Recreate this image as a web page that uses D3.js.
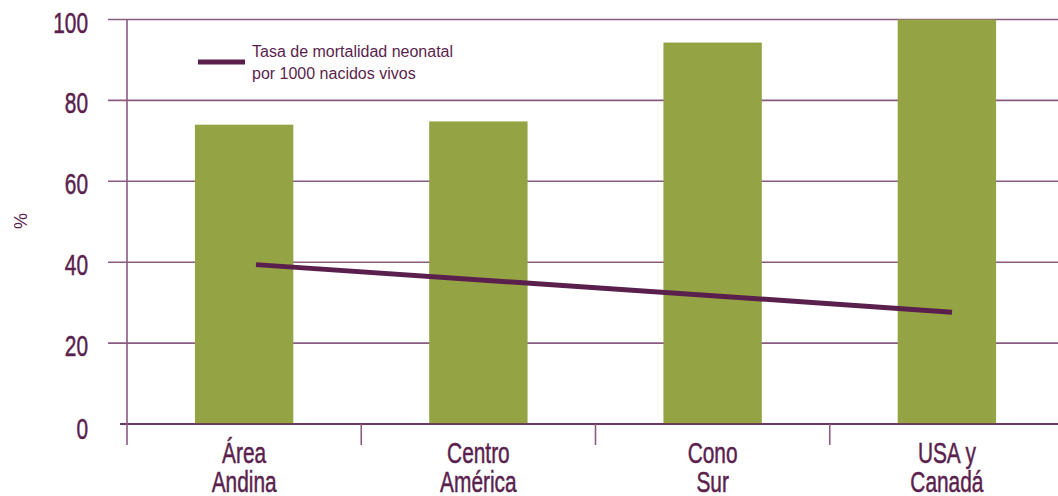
<!DOCTYPE html>
<html>
<head>
<meta charset="utf-8">
<script src="https://cdn.jsdelivr.net/npm/d3@7"></script>
<style>
  html, body { margin: 0; padding: 0; background: #fff; }
  svg { display: block; }
</style>
</head>
<body>
<svg id="chart" width="1058" height="496"></svg>
<script>
// Regions and their values
const categories = [["Área", "Andina"], ["Centro", "América"], ["Cono", "Sur"], ["USA y", "Canadá"]];
const barValues = [74.0, 74.8, 94.3, 100];          // %
const neonatalRate = [39.4, 35.5, 31.6, 27.6];       // per 1000 live births
const yTicks = [0, 20, 40, 60, 80, 100];
const legendLines = ["Tasa de mortalidad neonatal", "por 1000 nacidos vivos"];
const yTitle = "%";

const purple = "#5b1f4e";
const gridColor = "#8a5b80";
const green = "#94a444";
const condensed = "'Liberation Sans Narrow', 'Liberation Sans', Arial, sans-serif";
const squeeze = 0.72;   // horizontal compression for the condensed labels

const svg = d3.select("#chart");
const keys = categories.map(c => c.join(" "));

const x = d3.scaleBand().domain(keys).range([127, 1064]).padding(0);
const y = d3.scaleLinear().domain([0, 100]).range([424, 19.5]);
const xLine = d3.scalePoint().domain(keys).range([256, 952]);

const barW = x.bandwidth() * 0.42;

// horizontal grid lines with left ticks
const grid = svg.append("g");
grid.selectAll("line").data(yTicks).join("line")
  .attr("x1", d => d === 0 ? 120 : 108)
  .attr("x2", 1058)
  .attr("y1", d => y(d)).attr("y2", d => y(d))
  .attr("stroke", gridColor).attr("stroke-width", 1.6);

// y tick labels
svg.append("g").selectAll("text").data(yTicks).join("text")
  .attr("transform", d => `translate(88,${y(d) + (d === 0 ? 15 : 13)}) scale(${squeeze},1)`)
  .attr("text-anchor", "end")
  .attr("font-family", condensed)
  .attr("font-size", 29)
  .attr("fill", purple)
  .attr("stroke", purple)
  .attr("stroke-width", 0.5)
  .text(d => d);

// bars
svg.append("g").selectAll("rect").data(barValues).join("rect")
  .attr("x", (d, i) => x(keys[i]) + x.bandwidth() / 2 - barW / 2)
  .attr("width", barW)
  .attr("y", d => y(d))
  .attr("height", d => y(0) - y(d))
  .attr("fill", green);

// zero baseline over bars
svg.append("line")
  .attr("x1", 120).attr("x2", 1058)
  .attr("y1", y(0)).attr("y2", y(0))
  .attr("stroke", purple).attr("stroke-width", 1.6);

// vertical y axis line
svg.append("line")
  .attr("x1", 127).attr("x2", 127)
  .attr("y1", y(100)).attr("y2", 445)
  .attr("stroke", gridColor).attr("stroke-width", 1.6);

// category separators below the baseline
svg.append("g").selectAll("line").data(keys.slice(1)).join("line")
  .attr("x1", d => x(d)).attr("x2", d => x(d))
  .attr("y1", y(0)).attr("y2", 445)
  .attr("stroke", gridColor).attr("stroke-width", 1.6);

// category labels (two lines each)
const cat = svg.append("g").selectAll("g").data(categories).join("g")
  .attr("transform", (d, i) => `translate(${x(keys[i]) + x.bandwidth() / 2},0) scale(${squeeze},1)`);
cat.selectAll("text").data(d => d).join("text")
  .attr("x", 0)
  .attr("y", (d, j) => 463 + j * 29)
  .attr("text-anchor", "middle")
  .attr("font-family", condensed)
  .attr("font-size", 29)
  .attr("fill", purple)
  .attr("stroke", purple)
  .attr("stroke-width", 0.5)
  .text(d => d);

// neonatal mortality line
svg.append("path")
  .datum(neonatalRate)
  .attr("fill", "none")
  .attr("stroke", purple)
  .attr("stroke-width", 5)
  .attr("d", d3.line().x((d, i) => xLine(keys[i])).y(d => y(d)));

// y axis title
svg.append("text")
  .attr("transform", "translate(27,221) rotate(-90)")
  .attr("text-anchor", "middle")
  .attr("font-family", "'Liberation Sans', Arial, sans-serif")
  .attr("font-size", 18)
  .attr("fill", purple)
  .text(yTitle);

// legend
const legend = svg.append("g");
legend.append("line")
  .attr("x1", 198).attr("x2", 245)
  .attr("y1", 62).attr("y2", 62)
  .attr("stroke", purple).attr("stroke-width", 5);
legend.selectAll("text").data(legendLines).join("text")
  .attr("x", 252)
  .attr("y", (d, i) => 57 + i * 22)
  .attr("font-family", "'Liberation Sans', Arial, sans-serif")
  .attr("font-size", 16)
  .attr("fill", purple)
  .text(d => d);
</script>
</body>
</html>
